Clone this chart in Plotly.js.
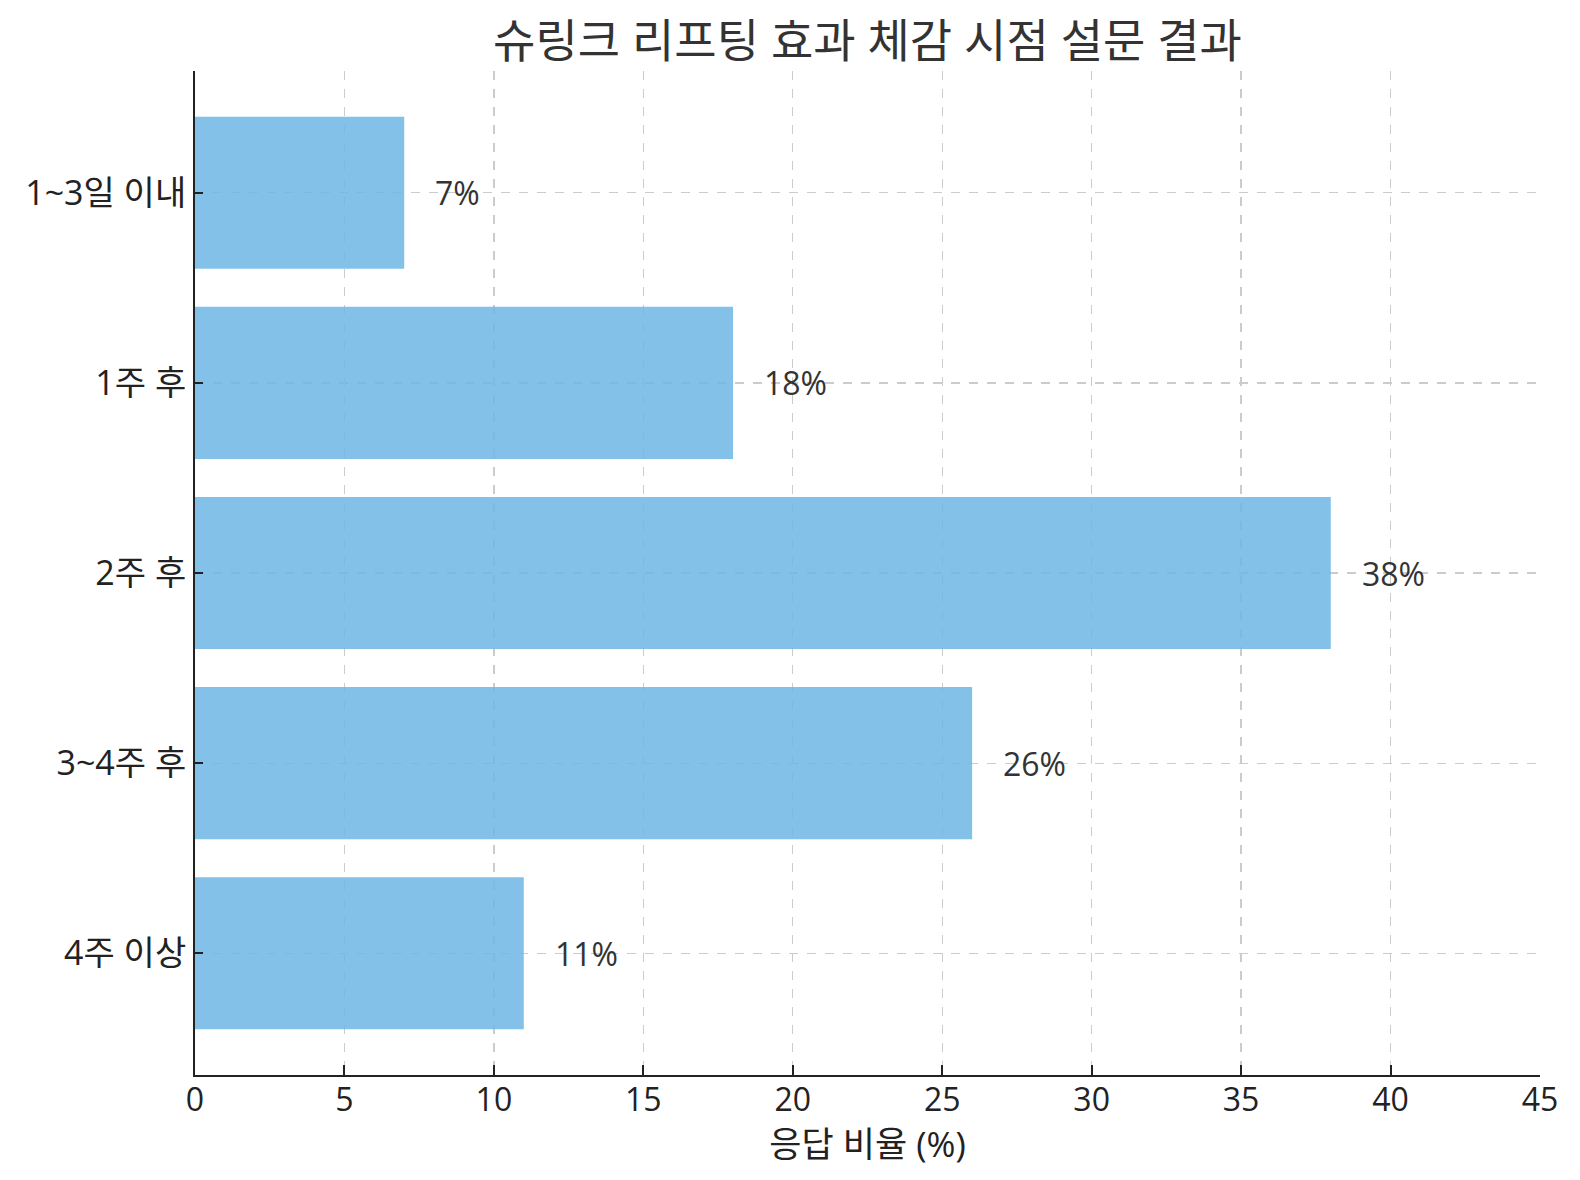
<!DOCTYPE html>
<html>
<head>
<meta charset="utf-8">
<script src="https://cdn.plot.ly/plotly-3.0.1.min.js"></script>
<style>html,body{margin:0;padding:0;background:#fff;}#chart{width:1580px;height:1180px;}</style>
</head>
<body>
<div id="chart"></div>
<script>
const categories = ["1~3일 이내", "1주 후", "2주 후", "3~4주 후", "4주 이상"];
const values = [7, 18, 38, 26, 11];
const labels = ["7%", "18%", "38%", "26%", "11%"];
const xTicks = [0, 5, 10, 15, 20, 25, 30, 35, 40, 45];

const FONT = '"Open Sans", "Noto Sans CJK KR", sans-serif';

const bar = {
  type: 'bar',
  orientation: 'h',
  y: categories,
  x: values,
  width: 0.8,
  marker: {color: 'rgba(111,182,229,0.85)', line: {width: 0}},
  hoverinfo: 'skip'
};

const annotations = categories.map((c, i) => ({
  x: values[i] + 1,
  y: c,
  xref: 'x',
  yref: 'y',
  text: labels[i],
  showarrow: false,
  xanchor: 'left',
  yanchor: 'middle',
  xshift: -1,
  font: {family: FONT, size: 32, color: '#333333'}
}));

const layout = {
  width: 1580,
  height: 1180,
  paper_bgcolor: '#ffffff',
  plot_bgcolor: '#ffffff',
  margin: {l: 195, r: 40, t: 71, b: 105, pad: 0},
  font: {family: FONT, color: '#222222'},
  showlegend: false,
  bargap: 0.2,
  title: {
    text: '슈링크 리프팅 효과 체감 시점 설문 결과',
    font: {family: FONT, size: 46, color: '#333333'},
    x: (195 + 1540) / 2 / 1580,
    xanchor: 'center',
    y: 1 - 41 / 1180,
    yanchor: 'middle',
    yref: 'container'
  },
  xaxis: {
    range: [0, 45],
    tickvals: xTicks,
    ticktext: xTicks.map(String),
    tickfont: {family: FONT, size: 32, color: '#222222'},
    ticks: 'inside',
    ticklen: 10,
    tickwidth: 2,
    tickcolor: '#222222',
    ticklabelstandoff: -4,
    showline: true,
    linecolor: '#222222',
    linewidth: 2,
    mirror: false,
    showgrid: true,
    gridcolor: '#cccccc',
    gridwidth: 1.3,
    griddash: 'dash',
    zeroline: false,
    title: {text: '응답 비율 (%)', font: {family: FONT, size: 35, color: '#222222'}, standoff: 0},
    layer: 'above traces'
  },
  yaxis: {
    type: 'category',
    categoryorder: 'array',
    categoryarray: categories,
    range: [4.64, -0.64],
    tickfont: {family: FONT, size: 34, color: '#222222'},
    ticks: 'inside',
    ticklen: 8,
    tickwidth: 2,
    tickcolor: '#222222',
    ticklabelstandoff: 0,
    showline: true,
    linecolor: '#222222',
    linewidth: 2,
    showgrid: true,
    gridcolor: '#cccccc',
    gridwidth: 1.3,
    griddash: 'dash',
    zeroline: false,
    layer: 'above traces'
  },
  annotations: annotations
};

Plotly.newPlot('chart', [bar], layout, {displayModeBar: false, staticPlot: true});
</script>
</body>
</html>
